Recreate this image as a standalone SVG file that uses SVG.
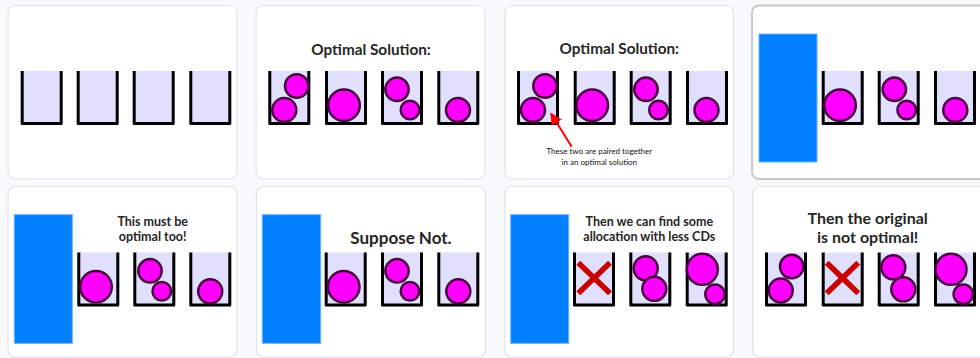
<svg xmlns="http://www.w3.org/2000/svg" xmlns:xlink="http://www.w3.org/1999/xlink" width="980" height="358" viewBox="0 0 980 358">
<style>
.bg{fill:#f8f9fb}
.panel{fill:#fff;stroke:#e1e3e7;stroke-width:1.2}
.panel.sel{stroke:#c9c9c9;stroke-width:2}
.wall{fill:none;stroke:#000;stroke-width:3;stroke-linejoin:round}
.fillbin{fill:#e0e0fc}
.ball{fill:#ff00ff;stroke:#4b0042;stroke-width:2.5}
.cd{fill:#0080ff;stroke:#6ab0ff;stroke-width:1}
.x{stroke:#c80000;stroke-width:5.5;stroke-linecap:butt}
.t{font-family:Lato,"Open Sans","Liberation Sans",sans-serif;font-weight:700;fill:#262626;text-anchor:middle}
.note{font-family:Lato,"Open Sans","Liberation Sans",sans-serif;font-weight:400;fill:#111;text-anchor:middle;font-size:8px}
.arrow{stroke:#ff0000;stroke-width:2;fill:none}
</style>
<defs>
<g id="bin"><rect class="fillbin" x="0" y="0" width="42" height="54"/><path class="wall" d="M1.5,0 V52.5 H40.5 V0"/></g>
<marker id="ah" viewBox="0 0 10 10" refX="9" refY="5" markerWidth="6" markerHeight="6" orient="auto" markerUnits="strokeWidth"><path d="M0,0 L10,5 L0,10 z" fill="#ff0000"/></marker>
</defs>
<rect class="bg" x="0" y="0" width="980" height="358"/>

<g id="panel1">
<rect class="panel" x="8" y="5.5" width="229" height="173.5" rx="7"/>
<use xlink:href="#bin" x="20.7" y="71"/><use xlink:href="#bin" x="76.7" y="71"/><use xlink:href="#bin" x="132.7" y="71"/><use xlink:href="#bin" x="189.3" y="71"/>
</g>

<g id="panel2">
<rect class="panel" x="256" y="5.5" width="229" height="173.5" rx="7"/>
<text class="t" x="371" y="55" font-size="15.3">Optimal Solution:</text>
<use xlink:href="#bin" x="268.3" y="71"/><use xlink:href="#bin" x="325" y="71"/><use xlink:href="#bin" x="381" y="71"/><use xlink:href="#bin" x="437.3" y="71"/>
<circle class="ball" cx="296.7" cy="86" r="11.7"/><circle class="ball" cx="284.3" cy="110" r="12"/>
<circle class="ball" cx="344" cy="105.3" r="15.8"/>
<circle class="ball" cx="397" cy="89.3" r="11.7"/><circle class="ball" cx="410" cy="110" r="9.3"/>
<circle class="ball" cx="458" cy="110" r="12"/>
</g>

<g id="panel3">
<rect class="panel" x="505" y="5.5" width="228.5" height="173.5" rx="7"/>
<text class="t" x="619.3" y="53.5" font-size="15.3">Optimal Solution:</text>
<use xlink:href="#bin" x="517" y="71"/><use xlink:href="#bin" x="573.7" y="71"/><use xlink:href="#bin" x="629.7" y="71"/><use xlink:href="#bin" x="686" y="71"/>
<circle class="ball" cx="545" cy="86" r="11.7"/><circle class="ball" cx="533" cy="110" r="12"/>
<circle class="ball" cx="592.2" cy="105.3" r="15.8"/>
<circle class="ball" cx="646" cy="89.3" r="11.7"/><circle class="ball" cx="658.5" cy="110" r="9.3"/>
<circle class="ball" cx="706.5" cy="110" r="12"/>
<text class="note" x="599.3" y="154">These two are paired together</text>
<text class="note" x="599.3" y="165">in an optimal solution</text>
</g>

<g id="panel4">
<rect class="panel sel" x="752" y="5.5" width="240" height="173.5" rx="7"/>
<rect class="cd" x="759" y="34" width="58" height="128"/>
<use xlink:href="#bin" x="821.7" y="71"/><use xlink:href="#bin" x="877.7" y="71"/><use xlink:href="#bin" x="934" y="71"/>
<circle class="ball" cx="840" cy="105.3" r="15.8"/>
<circle class="ball" cx="894.3" cy="89.3" r="11.7"/><circle class="ball" cx="906.7" cy="110" r="9.3"/>
<circle class="ball" cx="955.3" cy="110" r="12"/>
</g>

<g id="panel5">
<rect class="panel" x="8" y="186.5" width="229" height="170.5" rx="7"/>
<rect class="cd" x="14.3" y="214.7" width="58" height="128.6"/>
<text class="t" x="152.7" y="225.7" font-size="12.5">This must be</text>
<text class="t" x="152.7" y="241" font-size="12.5">optimal too!</text>
<use xlink:href="#bin" x="77.3" y="252.5"/><use xlink:href="#bin" x="133.3" y="252.5"/><use xlink:href="#bin" x="189.3" y="252.5"/>
<circle class="ball" cx="96" cy="286.8" r="15.8"/>
<circle class="ball" cx="150" cy="270.8" r="11.7"/><circle class="ball" cx="161.8" cy="291.3" r="9.3"/>
<circle class="ball" cx="210.2" cy="291.3" r="12"/>
</g>

<g id="panel6">
<rect class="panel" x="256.5" y="186.5" width="229" height="170.5" rx="7"/>
<rect class="cd" x="262.3" y="214.7" width="58.4" height="128.6"/>
<text class="t" x="401" y="244" font-size="17">Suppose Not.</text>
<use xlink:href="#bin" x="324.7" y="252.5"/><use xlink:href="#bin" x="381" y="252.5"/><use xlink:href="#bin" x="437.3" y="252.5"/>
<circle class="ball" cx="343.7" cy="286.8" r="15.8"/>
<circle class="ball" cx="397" cy="270.8" r="11.7"/><circle class="ball" cx="410" cy="291.3" r="9.3"/>
<circle class="ball" cx="458.3" cy="291.3" r="12"/>
</g>

<g id="panel7">
<rect class="panel" x="505" y="186.5" width="228.5" height="170.5" rx="7"/>
<rect class="cd" x="510.7" y="214.7" width="58" height="128.6"/>
<text class="t" x="649.3" y="225.7" font-size="12.5">Then we can find some</text>
<text class="t" x="649.3" y="241" font-size="12.5">allocation with less CDs</text>
<use xlink:href="#bin" x="573" y="252.5"/><use xlink:href="#bin" x="629.3" y="252.5"/><use xlink:href="#bin" x="685.7" y="252.5"/>
<path class="x" d="M578.3,262.7 L610,293.3 M610,262.7 L578.3,293.3"/>
<circle class="ball" cx="645.7" cy="268.3" r="12"/><circle class="ball" cx="654.3" cy="288.8" r="12"/>
<circle class="ball" cx="702.3" cy="269.3" r="15.5"/><circle class="ball" cx="715" cy="294.3" r="9.7"/>
</g>

<g id="panel8">
<rect class="panel" x="752.7" y="186.5" width="240" height="170.5" rx="7"/>
<text class="t" x="867.7" y="224" font-size="16">Then the original</text>
<text class="t" x="867.7" y="243.3" font-size="16">is not optimal!</text>
<use xlink:href="#bin" x="765" y="252.5"/><use xlink:href="#bin" x="821.7" y="252.5"/><use xlink:href="#bin" x="877.7" y="252.5"/><use xlink:href="#bin" x="934" y="252.5"/>
<circle class="ball" cx="791.7" cy="266.5" r="11.7"/><circle class="ball" cx="780.7" cy="290.5" r="12"/>
<path class="x" d="M826.7,262.7 L858.3,293.3 M858.3,262.7 L826.7,293.3"/>
<circle class="ball" cx="893.3" cy="267.3" r="12"/><circle class="ball" cx="903.3" cy="289.3" r="12"/>
<circle class="ball" cx="951" cy="269.3" r="15.5"/><circle class="ball" cx="963.3" cy="294.3" r="9.7"/>
</g>

<g id="connectors">
<line class="arrow" x1="571.7" y1="146.7" x2="551" y2="113.5" marker-end="url(#ah)"/>
</g>
</svg>
